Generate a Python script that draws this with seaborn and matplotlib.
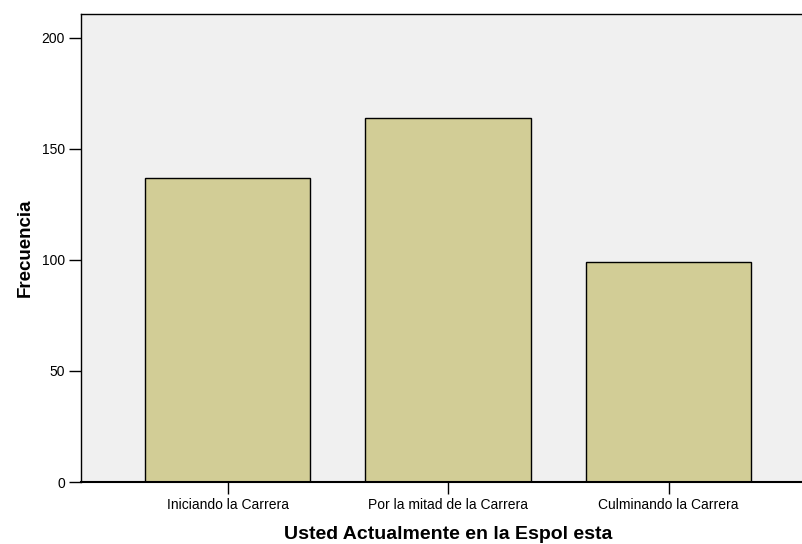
import pandas as pd
import matplotlib
matplotlib.use("Agg")
import matplotlib.pyplot as plt
import seaborn as sns

categorias = ["Iniciando la Carrera", "Por la mitad de la Carrera", "Culminando la Carrera"]
frecuencias = [137, 164, 99]
y_ticks = [0, 50, 100, 150, 200]

df = pd.DataFrame({"etapa": categorias, "frecuencia": frecuencias})

sns.set_style("ticks")
plt.rcParams["font.family"] = ["Liberation Sans", "DejaVu Sans"]

fig = plt.figure(figsize=(8.03, 5.44), dpi=100)
ax = fig.add_axes([81 / 803, 62 / 544, 1 - 81 / 803, 468 / 544])
ax.set_facecolor("#f0f0f0")

sns.barplot(data=df, x="etapa", y="frecuencia", color="#d2cd96", width=0.75,
            edgecolor="black", linewidth=1, saturation=1, ax=ax)

ax.set_xlim(-0.665, 2.61)
ax.set_ylim(0, 210.7)
ax.set_yticks(y_ticks)
ax.tick_params(axis="both", length=8.5, width=1, color="black", labelcolor="black",
               labelsize=10, pad=3)
ax.set_xlabel("Usted Actualmente en la Espol esta", fontsize=14, fontweight="bold",
              color="black", labelpad=10)
ax.xaxis.label.set_x(0.508)
ax.set_ylabel("Frecuencia", fontsize=13.5, fontweight="bold", color="black", labelpad=6)

for side in ["left", "bottom", "top"]:
    ax.spines[side].set_visible(True)
    ax.spines[side].set_color("black")
    ax.spines[side].set_linewidth(1)
ax.spines["bottom"].set_linewidth(1.5)
ax.spines["right"].set_visible(False)

fig.savefig("out.png", dpi=100, facecolor="white")
